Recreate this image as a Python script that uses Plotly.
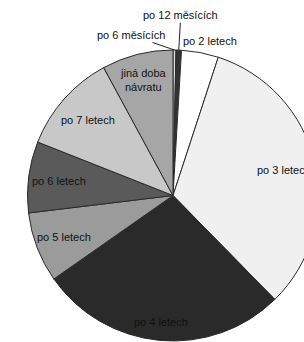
import math
import plotly.graph_objects as go

# ---- data ----
labels = ["po 6 měsících", "po 12 měsících", "po 2 letech", "po 3 letech",
          "po 4 letech", "po 5 letech", "po 6 letech", "po 7 letech",
          "jiná doba návratu"]
label_text = ["po 6 měsících", "po 12 měsících", "po 2 letech", "po 3 letech",
              "po 4 letech", "po 5 letech", "po 6 letech", "po 7 letech",
              "jiná doba<br>návratu"]
values = [0.33, 0.6, 4.1, 32.6, 27.6, 7.8, 7.9, 11.1, 7.9]

# ---- style ----
colors = ["#dcdcdc", "#333333", "#ffffff", "#f0f0f0", "#2a2a2a",
          "#9b9b9b", "#5a5a5a", "#c8c8c8", "#a6a6a6"]
# label radius as fraction of pie radius, and extra pixel shifts
lab_r = [1.0, 1.0, 1.08, 0.78, 0.87, 0.80, 0.79, 0.78, 0.82]
lab_dx = [0, 0, 8, 0, 0, 0, 0, 0, 0]
# leader-line labels: pixel offset of text from slice edge point
arrow_off = {0: (-44, -15), 1: (2, -35)}

W, H = 346, 342
ML, MR, MT, MB = 0, 0, 50, 1
PW, PH = W - ML - MR, H - MT - MB
R = min(PW, PH) / 2
CX, CY = ML + PW / 2, MT + PH / 2

fig = go.Figure(go.Pie(
    labels=labels, values=values, sort=False, direction="clockwise",
    rotation=0, textinfo="none", hoverinfo="label+percent",
    marker=dict(colors=colors, line=dict(color="#2b2b2b", width=1)),
    showlegend=False,
))

total = sum(values)
cum = 0.0
annotations = []
font = dict(family="Liberation Sans, Arial", size=11, color="#111111")
for i, v in enumerate(values):
    mid = (cum + v / 2) / total * 2 * math.pi
    cum += v
    if i in arrow_off:
        px = CX + R * math.sin(mid)
        py = CY - R * math.cos(mid)
        ax, ay = arrow_off[i]
        annotations.append(dict(
            x=(px - ML) / PW, y=1 - (py - MT) / PH, xref="paper", yref="paper",
            text=label_text[i], showarrow=True, arrowhead=0, arrowwidth=1,
            arrowcolor="#222222", ax=ax, ay=ay, font=font,
            xanchor="center", yanchor="middle", standoff=0,
        ))
    else:
        r = lab_r[i] * R
        px = CX + r * math.sin(mid) + lab_dx[i]
        py = CY - r * math.cos(mid)
        annotations.append(dict(
            x=(px - ML) / PW, y=1 - (py - MT) / PH, xref="paper", yref="paper",
            text=label_text[i], showarrow=False, font=font,
            xanchor="center", yanchor="middle",
        ))

fig.update_layout(
    width=W, height=H, margin=dict(l=ML, r=MR, t=MT, b=MB),
    paper_bgcolor="white", plot_bgcolor="white",
    font=font,
    annotations=annotations,
)

fig.write_html(
    "out.html",
    config={"displayModeBar": False},
    post_script="document.body.style.margin='0';"
                "document.body.style.overflow='hidden';",
)
